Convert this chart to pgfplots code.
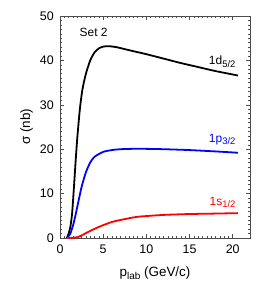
\documentclass[border=0pt]{standalone}
\usepackage{fontspec}
\setmainfont{Liberation Sans}
\usepackage{pgfplots}
\pgfplotsset{compat=1.18}
\newcommand\sub[2]{\raisebox{-0.35ex}{\fontsize{#1}{#1}\selectfont #2}}
\begin{document}
\fontsize{12}{14}\selectfont
\begin{tikzpicture}
\begin{axis}[name=ax,
  scale only axis, width=190bp, height=222bp,
  xmin=0, xmax=22, ymin=0, ymax=50,
  xtick={0,5,10,15,20}, ytick={0,10,20,30,40,50},
  minor x tick num=9, minor y tick num=9,
  tick align=inside, major tick length=4bp, minor tick length=2bp,
  xtick pos=both, ytick pos=both,
  axis line style={line width=0.8pt, black!70},
  tick style={black!70, line width=0.5pt},
  /pgf/number format/assume math mode=true,
  ticklabel style={font=\fontsize{12.5}{14}\selectfont},
  xticklabel style={yshift=-3bp},
  yticklabel style={xshift=-2bp},
  xlabel={p\sub{10}{lab} (GeV/c)},
  ylabel={σ (nb)},
  label style={font=\fontsize{13.5}{15}\selectfont},
  xlabel style={yshift=-5bp},
  ylabel style={yshift=-1bp},
  clip=false,
]
\addplot[black, line width=1.8pt, smooth, tension=0.4] coordinates {
(0.8,0) (1.0,1) (1.2,2.5) (1.4,5.5) (1.6,11) (1.8,17) (2.0,22.5) (2.3,29) (2.6,33.5) (3,37) (3.5,40) (4,41.8) (4.5,42.7) (5,43.1) (5.6,43.2) (6.5,43) (8,42.3) (10,41.4) (12,40.4) (14,39.4) (16,38.5) (18,37.6) (20.6,36.6)
};
\addplot[blue, line width=1.8pt, smooth, tension=0.4] coordinates {
(0.8,0) (1.2,1) (1.6,3.5) (2,7) (2.5,11.5) (3,14.8) (3.5,17) (4,18.3) (5,19.4) (6,19.8) (7,20) (9,20.1) (12,20) (15,19.8) (18,19.5) (20.6,19.2)
};
\addplot[red, line width=1.8pt, smooth, tension=0.4] coordinates {
(0.8,0) (1.5,0.05) (2.2,0.3) (3.3,1.4) (4.5,2.5) (6,3.6) (7.6,4.3) (9.1,4.8) (12,5.2) (15,5.4) (18,5.5) (20.6,5.6)
};
\node[anchor=west, font=\fontsize{12}{14}\selectfont] at (axis cs:1.8,46.3) {Set 2};
\node[anchor=east, font=\fontsize{12}{14}\selectfont] at (axis cs:20.8,39.7) {1d\sub{9.5}{5/2}};
\node[anchor=east, blue, font=\fontsize{12}{14}\selectfont] at (axis cs:20.8,22.2) {1p\sub{9.5}{3/2}};
\node[anchor=east, red, font=\fontsize{12}{14}\selectfont] at (axis cs:20.8,8.0) {1s\sub{9.5}{1/2}};
\end{axis}
\pgfresetboundingbox
\path ([shift={(-60bp,-59bp)}]ax.south west) rectangle ([shift={(25bp,16bp)}]ax.north east);
\end{tikzpicture}
\end{document}
